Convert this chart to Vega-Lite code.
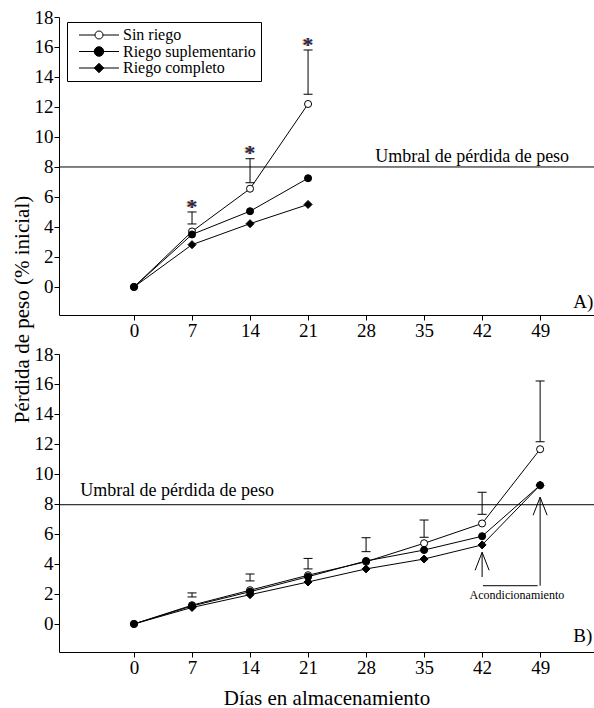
{
  "$schema": "https://vega.github.io/schema/vega-lite/v6.json",
  "padding": {"left": 11, "top": 8, "right": 0, "bottom": 0},
  "config": {
    "font": "Liberation Serif",
    "view": {"stroke": null},
    "axis": {
      "grid": false,
      "domainColor": "black",
      "tickColor": "black",
      "labelColor": "black",
      "labelFont": "Liberation Serif",
      "titleFont": "Liberation Serif",
      "labelFontSize": 19,
      "labelOverlap": false,
      "labelFlush": false,
      "tickSize": 5,
      "labelPadding": 1,
      "titleColor": "black",
      "titleFontWeight": "normal",
      "titleFontSize": 21
    }
  },
  "datasets": {
    "serie": [
      {"panel": "A", "trat": "Sin riego", "dia": 0, "peso": 0},
      {"panel": "A", "trat": "Sin riego", "dia": 7, "peso": 3.7},
      {"panel": "A", "trat": "Sin riego", "dia": 14, "peso": 6.55},
      {"panel": "A", "trat": "Sin riego", "dia": 21, "peso": 12.2},
      {"panel": "A", "trat": "Riego suplementario", "dia": 0, "peso": 0},
      {"panel": "A", "trat": "Riego suplementario", "dia": 7, "peso": 3.5},
      {"panel": "A", "trat": "Riego suplementario", "dia": 14, "peso": 5.05},
      {"panel": "A", "trat": "Riego suplementario", "dia": 21, "peso": 7.25},
      {"panel": "A", "trat": "Riego completo", "dia": 0, "peso": 0},
      {"panel": "A", "trat": "Riego completo", "dia": 7, "peso": 2.82},
      {"panel": "A", "trat": "Riego completo", "dia": 14, "peso": 4.22},
      {"panel": "A", "trat": "Riego completo", "dia": 21, "peso": 5.5},
      {"panel": "B", "trat": "Sin riego", "dia": 0, "peso": 0},
      {"panel": "B", "trat": "Sin riego", "dia": 7, "peso": 1.25},
      {"panel": "B", "trat": "Sin riego", "dia": 14, "peso": 2.25},
      {"panel": "B", "trat": "Sin riego", "dia": 21, "peso": 3.25},
      {"panel": "B", "trat": "Sin riego", "dia": 28, "peso": 4.15},
      {"panel": "B", "trat": "Sin riego", "dia": 35, "peso": 5.38},
      {"panel": "B", "trat": "Sin riego", "dia": 42, "peso": 6.7},
      {"panel": "B", "trat": "Sin riego", "dia": 49, "peso": 11.65},
      {"panel": "B", "trat": "Riego suplementario", "dia": 0, "peso": 0},
      {"panel": "B", "trat": "Riego suplementario", "dia": 7, "peso": 1.2},
      {"panel": "B", "trat": "Riego suplementario", "dia": 14, "peso": 2.15},
      {"panel": "B", "trat": "Riego suplementario", "dia": 21, "peso": 3.15},
      {"panel": "B", "trat": "Riego suplementario", "dia": 28, "peso": 4.2},
      {"panel": "B", "trat": "Riego suplementario", "dia": 35, "peso": 4.93},
      {"panel": "B", "trat": "Riego suplementario", "dia": 42, "peso": 5.85},
      {"panel": "B", "trat": "Riego suplementario", "dia": 49, "peso": 9.25},
      {"panel": "B", "trat": "Riego completo", "dia": 0, "peso": 0},
      {"panel": "B", "trat": "Riego completo", "dia": 7, "peso": 1.1},
      {"panel": "B", "trat": "Riego completo", "dia": 14, "peso": 1.95},
      {"panel": "B", "trat": "Riego completo", "dia": 21, "peso": 2.8},
      {"panel": "B", "trat": "Riego completo", "dia": 28, "peso": 3.67},
      {"panel": "B", "trat": "Riego completo", "dia": 35, "peso": 4.33},
      {"panel": "B", "trat": "Riego completo", "dia": 42, "peso": 5.27},
      {"panel": "B", "trat": "Riego completo", "dia": 49, "peso": 9.25}
    ],
    "error": [
      {"panel": "A", "dia": 7, "lo": 4.2, "hi": 5.0},
      {"panel": "A", "dia": 14, "lo": 6.95, "hi": 8.55},
      {"panel": "A", "dia": 21, "lo": 12.85, "hi": 15.8},
      {"panel": "B", "dia": 7, "lo": 1.8, "hi": 2.07},
      {"panel": "B", "dia": 14, "lo": 2.87, "hi": 3.33},
      {"panel": "B", "dia": 21, "lo": 3.67, "hi": 4.37},
      {"panel": "B", "dia": 28, "lo": 4.82, "hi": 5.75},
      {"panel": "B", "dia": 35, "lo": 5.78, "hi": 6.93},
      {"panel": "B", "dia": 42, "lo": 7.31, "hi": 8.78},
      {"panel": "B", "dia": 49, "lo": 12.15, "hi": 16.2}
    ],
    "asterisco": [
      {"dia": 7, "peso": 5.55, "texto": "*"},
      {"dia": 14, "peso": 9.15, "texto": "*"},
      {"dia": 21, "peso": 16.35, "texto": "*"}
    ],
    "umbral": [
      {"panel": "A", "peso": 8, "dia": 29.1, "rotulo": 8.35, "texto": "Umbral de pérdida de peso"},
      {"panel": "B", "peso": 7.95, "dia": -6.5, "rotulo": 8.55, "texto": "Umbral de pérdida de peso"}
    ],
    "letra": [
      {"panel": "A", "dia": 53.0, "peso": -1.4, "texto": "A)"},
      {"panel": "B", "dia": 53.0, "peso": -1.2, "texto": "B)"}
    ],
    "flecha": [
      {"dia": 42, "desde": 3.13, "hasta": 4.78},
      {"dia": 49, "desde": 2.55, "hasta": 8.45}
    ],
    "corchete": [
      {"dia": 42.1, "dia2": 48.7, "peso": 2.55}
    ],
    "nota": [
      {"dia": 46.2, "peso": 1.95, "texto": "Acondicionamiento"}
    ]
  },
  "bounds": "flush",
  "spacing": 39,
  "vconcat": [
    {
      "width": 535,
      "height": 298,
      "layer": [
        {
          "data": {"name": "serie"},
          "transform": [{"filter": "datum.panel == 'A'"}],
          "mark": {"type": "line", "color": "black", "strokeWidth": 1},
          "encoding": {
            "x": {
              "field": "dia", "type": "quantitative",
              "scale": {"domain": [-9.05, 55.5], "nice": false, "zero": false},
              "axis": {
                "values": [0, 7, 14, 21, 28, 35, 42, 49], "tickCount": 8, "title": null,
                "labelFont": "Liberation Serif", "labelFontSize": 19, "labelColor": "black",
                "domainColor": "black", "tickColor": "black", "tickSize": 5, "labelPadding": 1,
                "labelOverlap": false, "labelFlush": false, "grid": false
              }
            },
            "y": {
              "field": "peso", "type": "quantitative",
              "title": "Pérdida de peso (% inicial)",
              "scale": {"domain": [-1.87, 18], "nice": false, "zero": false},
              "axis": {
                "values": [0, 2, 4, 6, 8, 10, 12, 14, 16, 18],
                "tickCount": 10,
                "title": "Pérdida de peso (% inicial)",
                "titleFont": "Liberation Serif", "titleFontSize": 21, "titleFontWeight": "normal", "titleColor": "black",
                "titleBaseline": "alphabetic",
                "titleX": -31,
                "titleY": 292,
                "labelFont": "Liberation Serif", "labelFontSize": 19, "labelColor": "black",
                "domainColor": "black", "tickColor": "black", "tickSize": 5, "labelPadding": 1,
                "labelOverlap": false, "labelFlush": false, "grid": false
              }
            },
            "detail": {"field": "trat"}
          }
        },
        {
          "data": {"name": "umbral"},
          "transform": [{"filter": "datum.panel == 'A'"}],
          "mark": {"type": "rule", "color": "black", "strokeWidth": 1},
          "encoding": {
            "y": {"field": "peso", "type": "quantitative", "title": "Pérdida de peso (% inicial)"}
          }
        },
        {
          "data": {"name": "umbral"},
          "transform": [{"filter": "datum.panel == 'A'"}],
          "mark": {"type": "text", "align": "left", "baseline": "alphabetic", "font": "Liberation Serif", "fontSize": 18, "color": "black"},
          "encoding": {
            "x": {"field": "dia", "type": "quantitative"},
            "y": {"field": "rotulo", "type": "quantitative", "title": "Pérdida de peso (% inicial)"},
            "text": {"field": "texto"}
          }
        },
        {
          "data": {"name": "error"},
          "transform": [{"filter": "datum.panel == 'A'"}],
          "mark": {"type": "rule", "color": "black", "strokeWidth": 1},
          "encoding": {
            "x": {"field": "dia", "type": "quantitative"},
            "y": {"field": "lo", "type": "quantitative", "title": "Pérdida de peso (% inicial)"},
            "y2": {"field": "hi"}
          }
        },
        {
          "data": {"name": "error"},
          "transform": [{"filter": "datum.panel == 'A'"}],
          "mark": {"type": "point", "shape": "M-1,0H1", "size": 81, "filled": false, "color": "black", "strokeWidth": 1, "opacity": 1},
          "encoding": {
            "x": {"field": "dia", "type": "quantitative"},
            "y": {"field": "lo", "type": "quantitative", "title": "Pérdida de peso (% inicial)"}
          }
        },
        {
          "data": {"name": "error"},
          "transform": [{"filter": "datum.panel == 'A'"}],
          "mark": {"type": "point", "shape": "M-1,0H1", "size": 81, "filled": false, "color": "black", "strokeWidth": 1, "opacity": 1},
          "encoding": {
            "x": {"field": "dia", "type": "quantitative"},
            "y": {"field": "hi", "type": "quantitative", "title": "Pérdida de peso (% inicial)"}
          }
        },
        {
          "data": {"name": "serie"},
          "transform": [{"filter": "datum.panel == 'A' && datum.trat != 'Riego completo'"}],
          "mark": {"type": "point", "shape": "circle", "size": 50, "stroke": "black", "strokeWidth": 1, "opacity": 1},
          "encoding": {
            "x": {"field": "dia", "type": "quantitative"},
            "y": {"field": "peso", "type": "quantitative", "title": "Pérdida de peso (% inicial)"},
            "fill": {"condition": {"test": "datum.trat == 'Sin riego'", "value": "white"}, "value": "black"}
          }
        },
        {
          "data": {"name": "serie"},
          "transform": [{"filter": "datum.panel == 'A' && datum.trat == 'Riego completo'"}],
          "mark": {"type": "point", "shape": "diamond", "size": 64, "fill": "black", "stroke": "black", "strokeWidth": 1, "opacity": 1},
          "encoding": {
            "x": {"field": "dia", "type": "quantitative"},
            "y": {"field": "peso", "type": "quantitative", "title": "Pérdida de peso (% inicial)"}
          }
        },
        {
          "data": {"name": "serie"},
          "transform": [{"filter": "false"}],
          "mark": {"type": "point", "size": 100, "opacity": 1, "filled": true},
          "encoding": {
            "x": {"field": "dia", "type": "quantitative"},
            "y": {"field": "peso", "type": "quantitative", "title": "Pérdida de peso (% inicial)"},
            "shape": {
              "field": "trat", "type": "nominal",
              "scale": {
                "domain": ["Sin riego", "Riego suplementario", "Riego completo"],
                "range": [
                  "M-4,0H-0.8M0.8,0H4M0.8,0A0.8,0.8,0,1,1,-0.8,0A0.8,0.8,0,1,1,0.8,0",
                  "M-4,0H4M0.95,0A0.95,0.95,0,1,1,-0.95,0A0.95,0.95,0,1,1,0.95,0",
                  "M-4,0H4M0,-0.95L0.95,0L0,0.95L-0.95,0Z"
                ]
              },
              "legend": {
                "title": null, "orient": "none", "legendX": 8, "legendY": 5,
                "strokeColor": "black", "padding": 5,
                "labelFont": "Liberation Serif", "labelFontSize": 16, "labelColor": "black",
                "labelOffset": 16, "symbolOffset": 19, "symbolSize": 100, "symbolStrokeWidth": 1, "rowPadding": 0.5
              }
            },
            "fill": {
              "field": "trat", "type": "nominal",
              "scale": {"domain": ["Sin riego", "Riego suplementario", "Riego completo"], "range": ["white", "black", "black"]},
              "legend": {
                "title": null, "orient": "none", "legendX": 8, "legendY": 5,
                "strokeColor": "black", "padding": 5,
                "labelFont": "Liberation Serif", "labelFontSize": 16, "labelColor": "black",
                "labelOffset": 16, "symbolOffset": 19, "symbolSize": 100, "symbolStrokeWidth": 1, "rowPadding": 0.5
              }
            },
            "stroke": {
              "field": "trat", "type": "nominal",
              "scale": {"domain": ["Sin riego", "Riego suplementario", "Riego completo"], "range": ["black", "black", "black"]},
              "legend": {
                "title": null, "orient": "none", "legendX": 8, "legendY": 5,
                "strokeColor": "black", "padding": 5,
                "labelFont": "Liberation Serif", "labelFontSize": 16, "labelColor": "black",
                "labelOffset": 16, "symbolOffset": 19, "symbolSize": 100, "symbolStrokeWidth": 1, "rowPadding": 0.5
              }
            }
          }
        },
        {
          "data": {"name": "asterisco"},
          "mark": {"type": "text", "font": "Liberation Serif", "fontSize": 22, "fontWeight": "bold", "baseline": "alphabetic", "dy": 10, "dx": -1, "color": "#e6a24a"},
          "encoding": {
            "x": {"field": "dia", "type": "quantitative"},
            "y": {"field": "peso", "type": "quantitative", "title": "Pérdida de peso (% inicial)"},
            "text": {"field": "texto"}
          }
        },
        {
          "data": {"name": "asterisco"},
          "mark": {"type": "text", "font": "Liberation Serif", "fontSize": 22, "fontWeight": "bold", "baseline": "alphabetic", "dy": 10, "color": "#1d2858"},
          "encoding": {
            "x": {"field": "dia", "type": "quantitative"},
            "y": {"field": "peso", "type": "quantitative", "title": "Pérdida de peso (% inicial)"},
            "text": {"field": "texto"}
          }
        },
        {
          "data": {"name": "letra"},
          "transform": [{"filter": "datum.panel == 'A'"}],
          "mark": {"type": "text", "align": "left", "baseline": "alphabetic", "font": "Liberation Serif", "fontSize": 19, "color": "black"},
          "encoding": {
            "x": {"field": "dia", "type": "quantitative"},
            "y": {"field": "peso", "type": "quantitative", "title": "Pérdida de peso (% inicial)"},
            "text": {"field": "texto"}
          }
        }
      ]
    },
    {
      "width": 535,
      "height": 298,
      "layer": [
        {
          "data": {"name": "serie"},
          "transform": [{"filter": "datum.panel == 'B'"}],
          "mark": {"type": "line", "color": "black", "strokeWidth": 1},
          "encoding": {
            "x": {
              "field": "dia", "type": "quantitative",
              "scale": {"domain": [-9.05, 55.5], "nice": false, "zero": false},
              "axis": {
                "values": [0, 7, 14, 21, 28, 35, 42, 49], "tickCount": 8,
                "title": "Días en almacenamiento",
                "titleFont": "Liberation Serif", "titleFontSize": 21, "titleFontWeight": "normal", "titleColor": "black",
                "titlePadding": 10,
                "labelFont": "Liberation Serif", "labelFontSize": 19, "labelColor": "black",
                "domainColor": "black", "tickColor": "black", "tickSize": 5, "labelPadding": 1,
                "labelOverlap": false, "labelFlush": false, "grid": false
              }
            },
            "y": {
              "field": "peso", "type": "quantitative",
              "scale": {"domain": [-1.87, 18], "nice": false, "zero": false},
              "axis": {
                "values": [0, 2, 4, 6, 8, 10, 12, 14, 16, 18],
                "tickCount": 10,
                "title": null,
                "labelFont": "Liberation Serif", "labelFontSize": 19, "labelColor": "black",
                "domainColor": "black", "tickColor": "black", "tickSize": 5, "labelPadding": 1,
                "labelOverlap": false, "labelFlush": false, "grid": false
              }
            },
            "detail": {"field": "trat"}
          }
        },
        {
          "data": {"name": "umbral"},
          "transform": [{"filter": "datum.panel == 'B'"}],
          "mark": {"type": "rule", "color": "black", "strokeWidth": 1},
          "encoding": {
            "y": {"field": "peso", "type": "quantitative"}
          }
        },
        {
          "data": {"name": "umbral"},
          "transform": [{"filter": "datum.panel == 'B'"}],
          "mark": {"type": "text", "align": "left", "baseline": "alphabetic", "font": "Liberation Serif", "fontSize": 18, "color": "black"},
          "encoding": {
            "x": {"field": "dia", "type": "quantitative"},
            "y": {"field": "rotulo", "type": "quantitative"},
            "text": {"field": "texto"}
          }
        },
        {
          "data": {"name": "error"},
          "transform": [{"filter": "datum.panel == 'B'"}],
          "mark": {"type": "rule", "color": "black", "strokeWidth": 1},
          "encoding": {
            "x": {"field": "dia", "type": "quantitative"},
            "y": {"field": "lo", "type": "quantitative"},
            "y2": {"field": "hi"}
          }
        },
        {
          "data": {"name": "error"},
          "transform": [{"filter": "datum.panel == 'B'"}],
          "mark": {"type": "point", "shape": "M-1,0H1", "size": 81, "filled": false, "color": "black", "strokeWidth": 1, "opacity": 1},
          "encoding": {
            "x": {"field": "dia", "type": "quantitative"},
            "y": {"field": "lo", "type": "quantitative"}
          }
        },
        {
          "data": {"name": "error"},
          "transform": [{"filter": "datum.panel == 'B'"}],
          "mark": {"type": "point", "shape": "M-1,0H1", "size": 81, "filled": false, "color": "black", "strokeWidth": 1, "opacity": 1},
          "encoding": {
            "x": {"field": "dia", "type": "quantitative"},
            "y": {"field": "hi", "type": "quantitative"}
          }
        },
        {
          "data": {"name": "serie"},
          "transform": [{"filter": "datum.panel == 'B' && datum.trat != 'Riego completo'"}],
          "mark": {"type": "point", "shape": "circle", "size": 50, "stroke": "black", "strokeWidth": 1, "opacity": 1},
          "encoding": {
            "x": {"field": "dia", "type": "quantitative"},
            "y": {"field": "peso", "type": "quantitative"},
            "fill": {"condition": {"test": "datum.trat == 'Sin riego'", "value": "white"}, "value": "black"}
          }
        },
        {
          "data": {"name": "serie"},
          "transform": [{"filter": "datum.panel == 'B' && datum.trat == 'Riego completo'"}],
          "mark": {"type": "point", "shape": "diamond", "size": 64, "fill": "black", "stroke": "black", "strokeWidth": 1, "opacity": 1},
          "encoding": {
            "x": {"field": "dia", "type": "quantitative"},
            "y": {"field": "peso", "type": "quantitative"}
          }
        },
        {
          "data": {"name": "flecha"},
          "mark": {"type": "rule", "color": "black", "strokeWidth": 1},
          "encoding": {
            "x": {"field": "dia", "type": "quantitative"},
            "y": {"field": "desde", "type": "quantitative"},
            "y2": {"field": "hasta"}
          }
        },
        {
          "data": {"name": "flecha"},
          "mark": {"type": "point", "shape": "M-1.4,3.6L0,0L1.4,3.6", "size": 100, "filled": false, "color": "black", "strokeWidth": 1, "opacity": 1},
          "encoding": {
            "x": {"field": "dia", "type": "quantitative"},
            "y": {"field": "hasta", "type": "quantitative"}
          }
        },
        {
          "data": {"name": "corchete"},
          "mark": {"type": "rule", "color": "black", "strokeWidth": 1},
          "encoding": {
            "x": {"field": "dia", "type": "quantitative"},
            "x2": {"field": "dia2"},
            "y": {"field": "peso", "type": "quantitative"}
          }
        },
        {
          "data": {"name": "nota"},
          "mark": {"type": "text", "align": "center", "baseline": "middle", "font": "Liberation Serif", "fontSize": 12, "color": "black"},
          "encoding": {
            "x": {"field": "dia", "type": "quantitative"},
            "y": {"field": "peso", "type": "quantitative"},
            "text": {"field": "texto"}
          }
        },
        {
          "data": {"name": "letra"},
          "transform": [{"filter": "datum.panel == 'B'"}],
          "mark": {"type": "text", "align": "left", "baseline": "alphabetic", "font": "Liberation Serif", "fontSize": 19, "color": "black"},
          "encoding": {
            "x": {"field": "dia", "type": "quantitative"},
            "y": {"field": "peso", "type": "quantitative"},
            "text": {"field": "texto"}
          }
        }
      ]
    }
  ]
}
